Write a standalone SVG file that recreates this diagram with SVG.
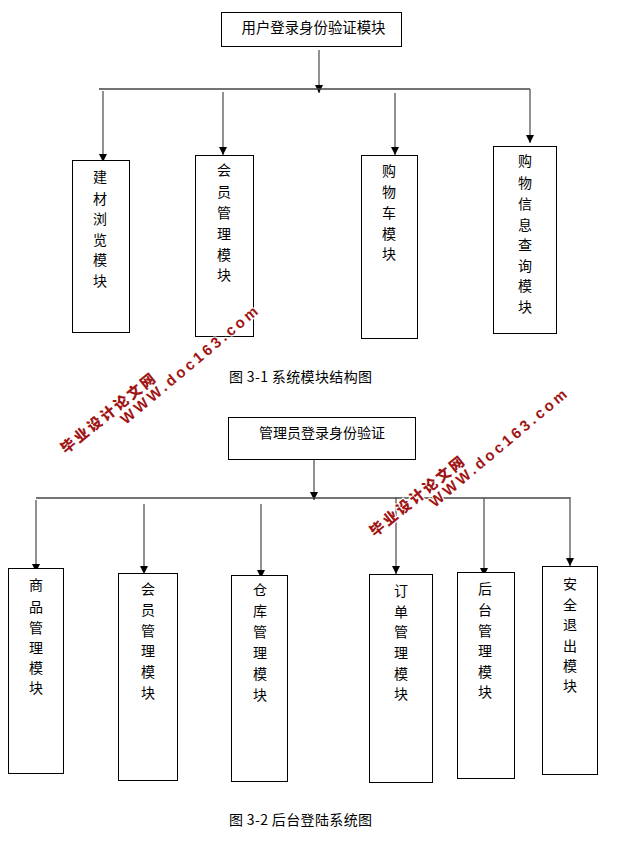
<svg xmlns="http://www.w3.org/2000/svg" width="630" height="847" viewBox="0 0 630 847">
<defs>
<marker id="a" markerUnits="userSpaceOnUse" markerWidth="9" markerHeight="9" refX="8" refY="4" orient="auto"><path d="M0 0L8 4L0 8Z" fill="#000"/></marker>
</defs>
<style>
.n{fill:#fff;stroke:#000;stroke-width:1}
.t{font-family:"Noto Sans CJK SC","Liberation Sans",sans-serif;font-size:14px;fill:#000;text-anchor:middle}
.c{font-family:"Noto Sans CJK SC","Liberation Mono",sans-serif;font-size:14px;fill:#000}
.l{stroke:#444;stroke-width:1.3;fill:none}
.ar{stroke:#555;stroke-width:1.3;fill:none;marker-end:url(#a)}
.w{fill:#a01414;stroke:#fff;stroke-width:2.2px;paint-order:stroke;font-weight:700}
.w1{font-family:"Noto Sans CJK SC",sans-serif;font-size:14.5px;font-weight:900}
.w2{font-family:"Liberation Sans",sans-serif;font-size:15px}
</style>
<rect width="630" height="847" fill="#fff"/>
<g id="connectors">
<path class="ar" d="M319 50V93"/>
<path class="l" d="M99 89H530"/>
<path class="ar" d="M103 91V162"/>
<path class="ar" d="M223 92V155"/>
<path class="ar" d="M395 93V155"/>
<path class="ar" d="M530 89V143"/>
<path class="ar" d="M314 460V500"/>
<path class="l" d="M36 498H570"/>
<path class="ar" d="M36 500V572"/>
<path class="ar" d="M144 504V574"/>
<path class="ar" d="M261 504V578"/>
<path class="ar" d="M396 497V574"/>
<path class="ar" d="M484 498V576"/>
<path class="ar" d="M570 497V566"/>
</g>
<g id="n1"><rect class="n" x="221.500" y="12.500" width="180" height="34"/><text class="t" x="313.500" y="33" style="font-size:14.400px">用户登录身份验证模块</text></g>
<g id="n2"><rect class="n" x="72.500" y="160.500" width="57" height="172"/><text class="t"><tspan x="100" y="182">建</tspan><tspan x="100" y="204">材</tspan><tspan x="100" y="224">浏</tspan><tspan x="100" y="245">览</tspan><tspan x="100" y="265">模</tspan><tspan x="100" y="286">块</tspan></text></g>
<g id="n3"><rect class="n" x="195.500" y="155.500" width="58" height="181"/><text class="t"><tspan x="224" y="175">会</tspan><tspan x="224" y="197">员</tspan><tspan x="224" y="218">管</tspan><tspan x="224" y="239">理</tspan><tspan x="224" y="260">模</tspan><tspan x="224" y="280">块</tspan></text></g>
<g id="n4"><rect class="n" x="361.500" y="155.500" width="56" height="183"/><text class="t"><tspan x="389" y="176">购</tspan><tspan x="389" y="197">物</tspan><tspan x="389" y="218">车</tspan><tspan x="389" y="239">模</tspan><tspan x="389" y="259">块</tspan></text></g>
<g id="n5"><rect class="n" x="493.500" y="146.500" width="63" height="187"/><text class="t"><tspan x="525" y="166">购</tspan><tspan x="525" y="188">物</tspan><tspan x="525" y="209">信</tspan><tspan x="525" y="230">息</tspan><tspan x="525" y="250">查</tspan><tspan x="525" y="271">询</tspan><tspan x="525" y="291">模</tspan><tspan x="525" y="312">块</tspan></text></g>
<g id="n6"><rect class="n" x="228.500" y="417.500" width="187" height="42"/><text class="t" x="322" y="438">管理员登录身份验证</text></g>
<g id="n7"><rect class="n" x="8.500" y="568.500" width="55" height="205"/><text class="t"><tspan x="36" y="590">商</tspan><tspan x="36" y="612">品</tspan><tspan x="36" y="633">管</tspan><tspan x="36" y="653">理</tspan><tspan x="36" y="673">模</tspan><tspan x="36" y="693">块</tspan></text></g>
<g id="n8"><rect class="n" x="118.500" y="573.500" width="59" height="207"/><text class="t"><tspan x="148" y="594">会</tspan><tspan x="148" y="615">员</tspan><tspan x="148" y="636">管</tspan><tspan x="148" y="656">理</tspan><tspan x="148" y="677">模</tspan><tspan x="148" y="698">块</tspan></text></g>
<g id="n9"><rect class="n" x="231.500" y="575.500" width="56" height="206"/><text class="t"><tspan x="260" y="595">仓</tspan><tspan x="260" y="616">库</tspan><tspan x="260" y="637">管</tspan><tspan x="260" y="658">理</tspan><tspan x="260" y="679">模</tspan><tspan x="260" y="700">块</tspan></text></g>
<g id="n10"><rect class="n" x="369.500" y="574.500" width="63" height="208"/><text class="t"><tspan x="401" y="596">订</tspan><tspan x="401" y="617">单</tspan><tspan x="401" y="637">管</tspan><tspan x="401" y="658">理</tspan><tspan x="401" y="679">模</tspan><tspan x="401" y="699">块</tspan></text></g>
<g id="n11"><rect class="n" x="457.500" y="572.500" width="57" height="206"/><text class="t"><tspan x="485" y="594">后</tspan><tspan x="485" y="615">台</tspan><tspan x="485" y="636">管</tspan><tspan x="485" y="656">理</tspan><tspan x="485" y="677">模</tspan><tspan x="485" y="697">块</tspan></text></g>
<g id="n12"><rect class="n" x="542.500" y="566.500" width="55" height="208"/><text class="t"><tspan x="570" y="589">安</tspan><tspan x="570" y="610">全</tspan><tspan x="570" y="630">退</tspan><tspan x="570" y="651">出</tspan><tspan x="570" y="671">模</tspan><tspan x="570" y="691">块</tspan></text></g>
<g id="captions">
<text class="c" x="229" y="382" textLength="143">图 3-1 系统模块结构图</text>
<text class="c" x="229" y="825" textLength="143">图 3-2 后台登陆系统图</text>
</g>
<g id="watermarks">
<text class="w w1" transform="translate(65.700 454.300) rotate(-39)" textLength="117">毕业设计论文网</text>
<text class="w w2" transform="translate(125.700 425) rotate(-40)" textLength="174">WWW.doc163.com</text>
<text class="w w1" transform="translate(374.700 537.300) rotate(-39)" textLength="117">毕业设计论文网</text>
<text class="w w2" transform="translate(434.700 508) rotate(-40)" textLength="174">WWW.doc163.com</text>
</g>
</svg>
